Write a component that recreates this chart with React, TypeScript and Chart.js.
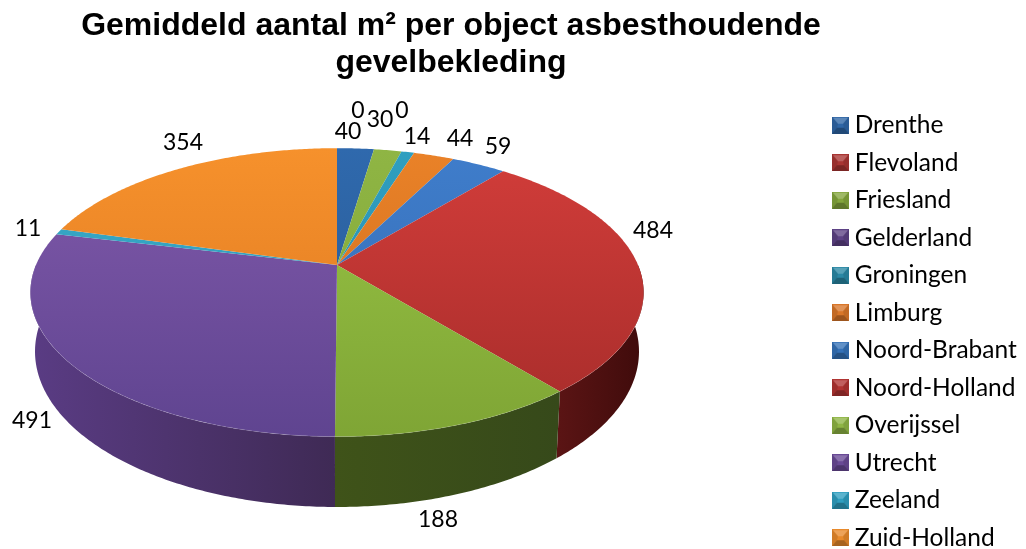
import React, { useEffect, useRef } from "react";
import { Chart, registerables } from "chart.js";

Chart.register(...registerables);

const TITLE_LINES = ["Gemiddeld aantal m² per object asbesthoudende", "gevelbekleding"];
const PROVINCES = ["Drenthe", "Flevoland", "Friesland", "Gelderland", "Groningen", "Limburg", "Noord-Brabant", "Noord-Holland", "Overijssel", "Utrecht", "Zeeland", "Zuid-Holland"];
const VALUES = [40, 0, 30, 0, 14, 44, 59, 484, 188, 491, 11, 354];

const FACE_TOP = ["#2f69ad", "#cf3c3a", "#8fb544", "#7f58a8", "#2f9fc0", "#ea8228", "#3f7dcb", "#d23d3a", "#98c445", "#8059aa", "#38accb", "#f6912c"];
const FACE_BOTTOM = ["#28588f", "#a52c2a", "#7fa535", "#5f4490", "#2888a5", "#c96a1c", "#346ab0", "#a62c2a", "#7fa535", "#5f4490", "#2e92b0", "#dc7720"];
const WALL_A = ["#1c3557", "#571313", "#3c5019", "#5a3c84", "#175466", "#7a430f", "#1f3f6c", "#5a1414", "#3f5319", "#5a3c84", "#175466", "#7a430f"];
const WALL_B = ["#1c3557", "#3d0b0b", "#36491a", "#3f2a55", "#175466", "#7a430f", "#1f3f6c", "#3f0b0b", "#36491a", "#3f2a55", "#175466", "#7a430f"];
const ICON = ["#2f66a6", "#a93533", "#84a63d", "#5d4285", "#2a88a5", "#d9772a", "#3572b8", "#b03432", "#8fb544", "#6a4a96", "#2f9fc0", "#e88a2c"];

const LABEL_POINTS: [number, number][] = [
  [348, 132], [358, 111], [380, 120], [402, 111], [417, 137], [460, 139],
  [498, 147], [653, 231], [438, 520], [32, 421], [28, 229], [183, 143],
];

const PROJECTION = { cx: 337, cy: 265, rx: 301, ry: 139, k: 0.19, depth: 57, lowerRim: 0.985 };

function project(angle: number, radius: number, drop: number): [number, number] {
  const { cx, cy, rx, ry, k, lowerRim } = PROJECTION;
  const x = radius * Math.cos(angle) * (drop > 0 ? lowerRim : 1);
  const y = -radius * Math.sin(angle);
  const w = 1 / (1 + k * y);
  return [cx + rx * x * w, cy - ry * y * w + drop * w];
}

function arcPoints(a0: number, a1: number, drop: number) {
  const n = Math.max(2, Math.ceil((a1 - a0) / 0.01));
  const pts: [number, number][] = [];
  for (let i = 0; i <= n; i++) pts.push(project(a0 + ((a1 - a0) * i) / n, 1, drop));
  return pts;
}

function makeIcon(i: number) {
  const c = document.createElement("canvas");
  c.width = 17;
  c.height = 17;
  const g = c.getContext("2d")!;
  g.fillStyle = ICON[i];
  g.fillRect(0, 0, 17, 17);
  const shade = (pts: number[][], col: string) => {
    g.beginPath();
    pts.forEach((p, j) => (j ? g.lineTo(p[0], p[1]) : g.moveTo(p[0], p[1])));
    g.closePath();
    g.fillStyle = col;
    g.fill();
  };
  shade([[1, 1], [16, 1], [11, 7], [6, 7]], "rgba(255,255,255,0.22)");
  shade([[0, 17], [17, 17], [12, 11], [5, 11]], "rgba(0,0,0,0.28)");
  shade([[0, 0], [6, 7], [5, 11], [0, 17]], "rgba(0,0,0,0.1)");
  shade([[17, 0], [11, 7], [12, 11], [17, 17]], "rgba(0,0,0,0.1)");
  return c;
}

const pie3d = {
  id: "pie3d",
  afterLayout(chart: any) {
    const t = chart.titleBlock;
    t.left = 0;
    t.right = 902;
    t.top = 8;
    t.bottom = t.top + t.height;
    const l = chart.legend;
    l.left = 825.5;
    l.right = 1026;
    l.top = 100;
    l.bottom = l.top + l.height;
  },
  beforeDatasetsDraw(chart: any) {
    const ctx = chart.ctx;
    const arcs = chart.getDatasetMeta(0).data;
    const { cy, ry, depth } = PROJECTION;
    // walls
    arcs.forEach((arc: any, i: number) => {
      const a0 = Math.max(arc.startAngle, 0);
      const a1 = Math.min(arc.endAngle, Math.PI);
      if (a1 <= a0) return;
      const top = arcPoints(a0, a1, 0);
      const bottom = arcPoints(a0, a1, depth).reverse();
      const xs = top.map((p) => p[0]);
      const g = ctx.createLinearGradient(Math.min(...xs), 0, Math.max(...xs), 0);
      const leftSide = top[0][0] > top[top.length - 1][0];
      g.addColorStop(0, leftSide ? WALL_A[i] : WALL_B[i]);
      g.addColorStop(1, leftSide ? WALL_B[i] : WALL_A[i]);
      ctx.beginPath();
      [...top, ...bottom].forEach((p, j) => (j ? ctx.lineTo(p[0], p[1]) : ctx.moveTo(p[0], p[1])));
      ctx.closePath();
      ctx.fillStyle = g;
      ctx.fill();
    });
    // top faces
    const yTop = cy - ry / 1.19;
    const yBottom = cy + ry / 0.81;
    arcs.forEach((arc: any, i: number) => {
      if (arc.endAngle - arc.startAngle <= 0) return;
      const g = ctx.createLinearGradient(0, yTop, 0, yBottom);
      g.addColorStop(0, FACE_TOP[i]);
      g.addColorStop(1, FACE_BOTTOM[i]);
      ctx.beginPath();
      ctx.moveTo(PROJECTION.cx, cy);
      arcPoints(arc.startAngle, arc.endAngle, 0).forEach((p) => ctx.lineTo(p[0], p[1]));
      ctx.closePath();
      ctx.fillStyle = g;
      ctx.fill();
    });
    // thin light lip on the front rim
    ctx.save();
    ctx.beginPath();
    arcPoints(0.25, Math.PI - 0.02, 0).forEach((p, j) => (j ? ctx.lineTo(p[0], p[1]) : ctx.moveTo(p[0], p[1])));
    ctx.strokeStyle = "rgba(255,255,255,0.12)";
    ctx.lineWidth = 1;
    ctx.stroke();
    ctx.restore();
    return false;
  },
  afterDraw(chart: any) {
    const ctx = chart.ctx;
    ctx.save();
    ctx.font = "23px Lato";
    ctx.fillStyle = "#000";
    ctx.textAlign = "center";
    ctx.textBaseline = "middle";
    VALUES.forEach((v, i) => ctx.fillText(String(v), LABEL_POINTS[i][0], LABEL_POINTS[i][1]));
    ctx.restore();
  },
};

export default function App() {
  const ref = useRef<HTMLCanvasElement>(null);
  useEffect(() => {
    document.body.style.margin = "0";
    const chart = new Chart(ref.current!, {
      type: "pie",
      data: {
        labels: PROVINCES,
        datasets: [{ data: VALUES, backgroundColor: FACE_TOP, borderWidth: 0 }],
      },
      plugins: [pie3d],
      options: {
        responsive: false,
        animation: false,
        plugins: {
          tooltip: { enabled: false },
          title: {
            display: true,
            text: TITLE_LINES,
            color: "#000",
            padding: 0,
            font: { family: "'Liberation Sans'", size: 32, weight: "bold", lineHeight: 1.14 },
          },
          legend: {
            position: "right",
            align: "start",
            labels: {
              usePointStyle: true,
              pointStyleWidth: 4,
              boxHeight: 17,
              padding: 13,
              color: "#000",
              font: { family: "Lato", size: 24.5 },
              generateLabels: (c: any) =>
                c.data.labels.map((text: string, index: number) => ({
                  text,
                  index,
                  fillStyle: ICON[index],
                  strokeStyle: ICON[index],
                  lineWidth: 0,
                  fontColor: "#000",
                  pointStyle: makeIcon(index),
                })),
            },
          },
        },
      } as any,
    });
    return () => chart.destroy();
  }, []);
  return <canvas ref={ref} width={1026} height={549} style={{ display: "block" }} />;
}
